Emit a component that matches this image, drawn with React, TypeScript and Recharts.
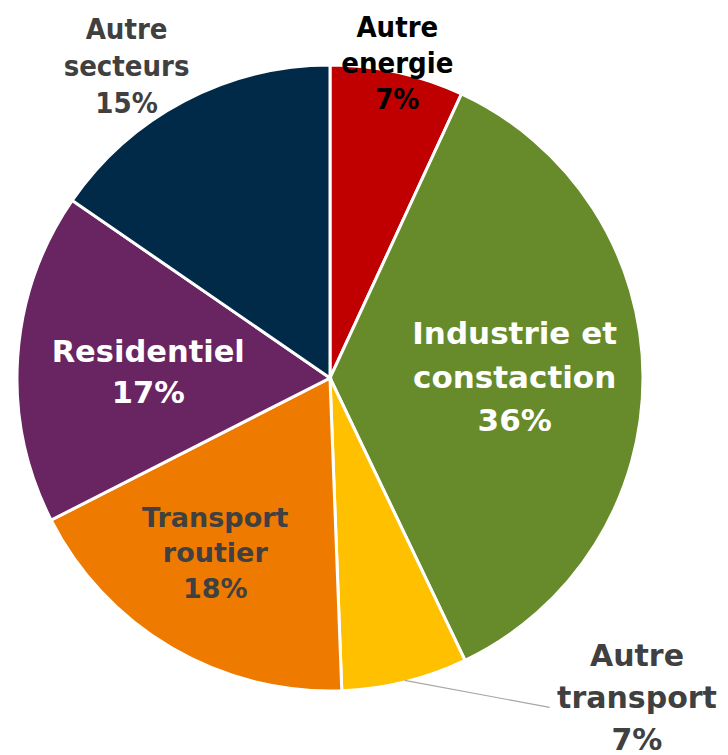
import { PieChart, Pie, Cell } from 'recharts'

const names = ['Autre energie', 'Industrie et constaction', 'Autre transport', 'Transport routier', 'Residentiel', 'Autre secteurs']
// shares; labels show them rounded
const values = [6.9, 36.0, 6.5, 18.1, 17.1, 15.4]
const colors = ['#C00000', '#678B2A', '#FFC000', '#EE7B00', '#692462', '#002A48']

// label line breaks, as in the original
const labelLines = [
  ['Autre', 'energie'],
  ['Industrie et', 'constaction'],
  ['Autre', 'transport'],
  ['Transport', 'routier'],
  ['Residentiel'],
  ['Autre', 'secteurs'],
]

const labelStyle = [
  { rf: 1.03, dx: -2, dy: 0, size: 29, lh: 36, fill: '#000000', condensed: true },
  { rf: 0.59, dx: 0, dy: 0, size: 31, lh: 43.5, fill: '#FFFFFF', condensed: false },
  { rf: 1.0, dx: 232, dy: 15, size: 30, lh: 42, fill: '#404040', condensed: false },
  { rf: 0.667, dx: -9, dy: -6, size: 27, lh: 35.5, fill: '#404040', condensed: false },
  { rf: 0.582, dx: 0, dy: 6, size: 30.5, lh: 41, fill: '#FFFFFF', condensed: false },
  { rf: 1.15, dx: -36, dy: 7, size: 29, lh: 37, fill: '#404040', condensed: true },
]

const data = names.map((name, i) => ({ name, value: values[i] }))
const RAD = Math.PI / 180

const renderLabel = (props: any) => {
  const { cx, cy, midAngle, outerRadius, index, value } = props
  const s = labelStyle[index]
  const lines = [...labelLines[index], `${Math.round(value)}%`]
  const cos = Math.cos(-midAngle * RAD)
  const sin = Math.sin(-midAngle * RAD)
  const x = cx + outerRadius * s.rf * cos + s.dx
  const y = cy + outerRadius * s.rf * sin + s.dy
  const first = y - ((lines.length - 1) * s.lh) / 2
  const ex = cx + outerRadius * 0.995 * cos
  const ey = cy + outerRadius * 0.995 * sin
  return (
    <g>
      {index === 2 && (
        <polyline
          points={`${ex},${ey} ${ex + 145},${ey + 27}`}
          fill="none"
          stroke="#A6A6A6"
          strokeWidth={1.2}
        />
      )}
      <text
        x={x}
        y={first}
        textAnchor="middle"
        dominantBaseline="central"
        fill={s.fill}
        fontSize={s.size}
        fontWeight="bold"
        fontFamily={s.condensed ? '"DejaVu Sans Condensed", "DejaVu Sans", sans-serif' : '"DejaVu Sans", Verdana, sans-serif'}
      >
        {lines.map((t, k) => (
          <tspan key={k} x={x} y={first + k * s.lh}>{t}</tspan>
        ))}
      </text>
    </g>
  )
}

export default function App() {
  return (
    <div style={{ position: 'absolute', left: 0, top: 0, background: '#fff' }}>
      <PieChart width={728} height={755} margin={{ top: 0, right: 0, bottom: 0, left: 0 }}>
        <Pie
          data={data}
          dataKey="value"
          nameKey="name"
          cx={330}
          cy={378}
          outerRadius={313}
          startAngle={90}
          endAngle={-270}
          stroke="#FFFFFF"
          strokeWidth={3}
          label={renderLabel}
          labelLine={false}
          isAnimationActive={false}
        >
          {data.map((d, i) => (
            <Cell key={d.name} fill={colors[i]} />
          ))}
        </Pie>
      </PieChart>
    </div>
  )
}
